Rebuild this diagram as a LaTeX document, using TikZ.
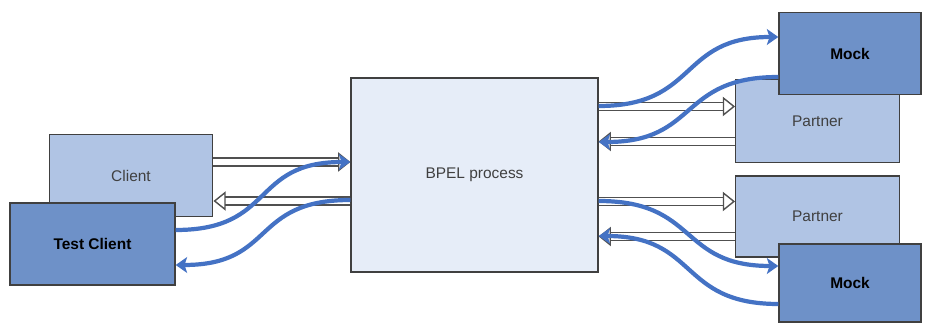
\documentclass[tikz,border=0pt]{standalone}
\usepackage{fontspec}
\setmainfont{Liberation Sans}
\usetikzlibrary{arrows.meta}

\definecolor{flowblue}{RGB}{68,114,196}
\definecolor{boxline}{RGB}{64,64,64}
\definecolor{textgray}{RGB}{64,64,64}
\definecolor{bpelfill}{RGB}{230,237,248}
\definecolor{realfill}{RGB}{176,196,228}
\definecolor{mockfill}{RGB}{110,145,200}
\definecolor{hollowline}{RGB}{80,80,80}

\tikzset{
  box/.style={draw=boxline, line width=0.8pt, text=textgray,
    font=\fontsize{8.8}{10}\selectfont},
  realbox/.style={box, fill=realfill, minimum width=3.27cm, minimum height=1.65cm},
  mockbox/.style={box, fill=mockfill, text=black, font=\fontsize{8.8}{10}\selectfont\bfseries,
    minimum width=2.84cm, minimum height=1.64cm},
  hollow/.style={draw=hollowline, line width=0.8pt, double=white, double distance=3.6pt,
    -{Triangle[open, length=7pt, width=11pt]}},
  flow/.style={draw=flowblue, line width=2.4pt,
    -{Stealth[length=6.5pt, width=9pt, inset=1.5pt]}}
}

\begin{document}
\begin{tikzpicture}[x=0.02cm,y=-0.02cm]
    \useasboundingbox (0,0) rectangle (932,323);

    % Process under test
    \node[box, fill=bpelfill, minimum width=4.94cm, minimum height=3.88cm] (bpel) at (474.5,175) {BPEL process};

    % Client side
    \node[realbox] (client) at (131,175.5) {Client};
    \node[mockbox, minimum width=3.3cm] (tclient) at (92.5,244) {Test Client};

    % Partner side
    \node[realbox] (partnerA) at (817.5,121) {Partner};
    \node[mockbox] (mockA) at (850,53.5) {Mock};
    \node[realbox, minimum height=1.62cm] (partnerB) at (817.5,216.5) {Partner};
    \node[mockbox, minimum height=1.56cm] (mockB) at (850,283) {Mock};

    % Real message flow
    \draw[hollow] (client.east |- 0,162) -- (bpel.west |- 0,162);
    \draw[hollow] (bpel.west |- 0,201) -- (client.east |- 0,201);
    \draw[hollow] (bpel.east |- 0,106.5) -- (partnerA.west |- 0,106.5);
    \draw[hollow] (partnerA.west |- 0,141.5) -- (bpel.east |- 0,141.5);
    \draw[hollow] (bpel.east |- 0,201.5) -- (partnerB.west |- 0,201.5);
    \draw[hollow] (partnerB.west |- 0,236.5) -- (bpel.east |- 0,236.5);

    % Test message flow
    \draw[flow] (tclient.east |- 0,230) .. controls +(100,0) and +(-100,0) .. (bpel.west |- 0,162);
    \draw[flow] (bpel.west |- 0,200) .. controls +(-100,0) and +(100,0) .. (tclient.east |- 0,265);
    \draw[flow] (bpel.east |- 0,106) .. controls +(100,0) and +(-100,0) .. (mockA.west |- 0,37);
    \draw[flow] (mockA.west |- 0,77) .. controls +(-100,0) and +(100,0) .. (bpel.east |- 0,142);
    \draw[flow] (bpel.east |- 0,201) .. controls +(100,0) and +(-100,0) .. (mockB.west |- 0,266);
    \draw[flow] (mockB.west |- 0,304) .. controls +(-100,0) and +(100,0) .. (bpel.east |- 0,236);
\end{tikzpicture}
\end{document}
